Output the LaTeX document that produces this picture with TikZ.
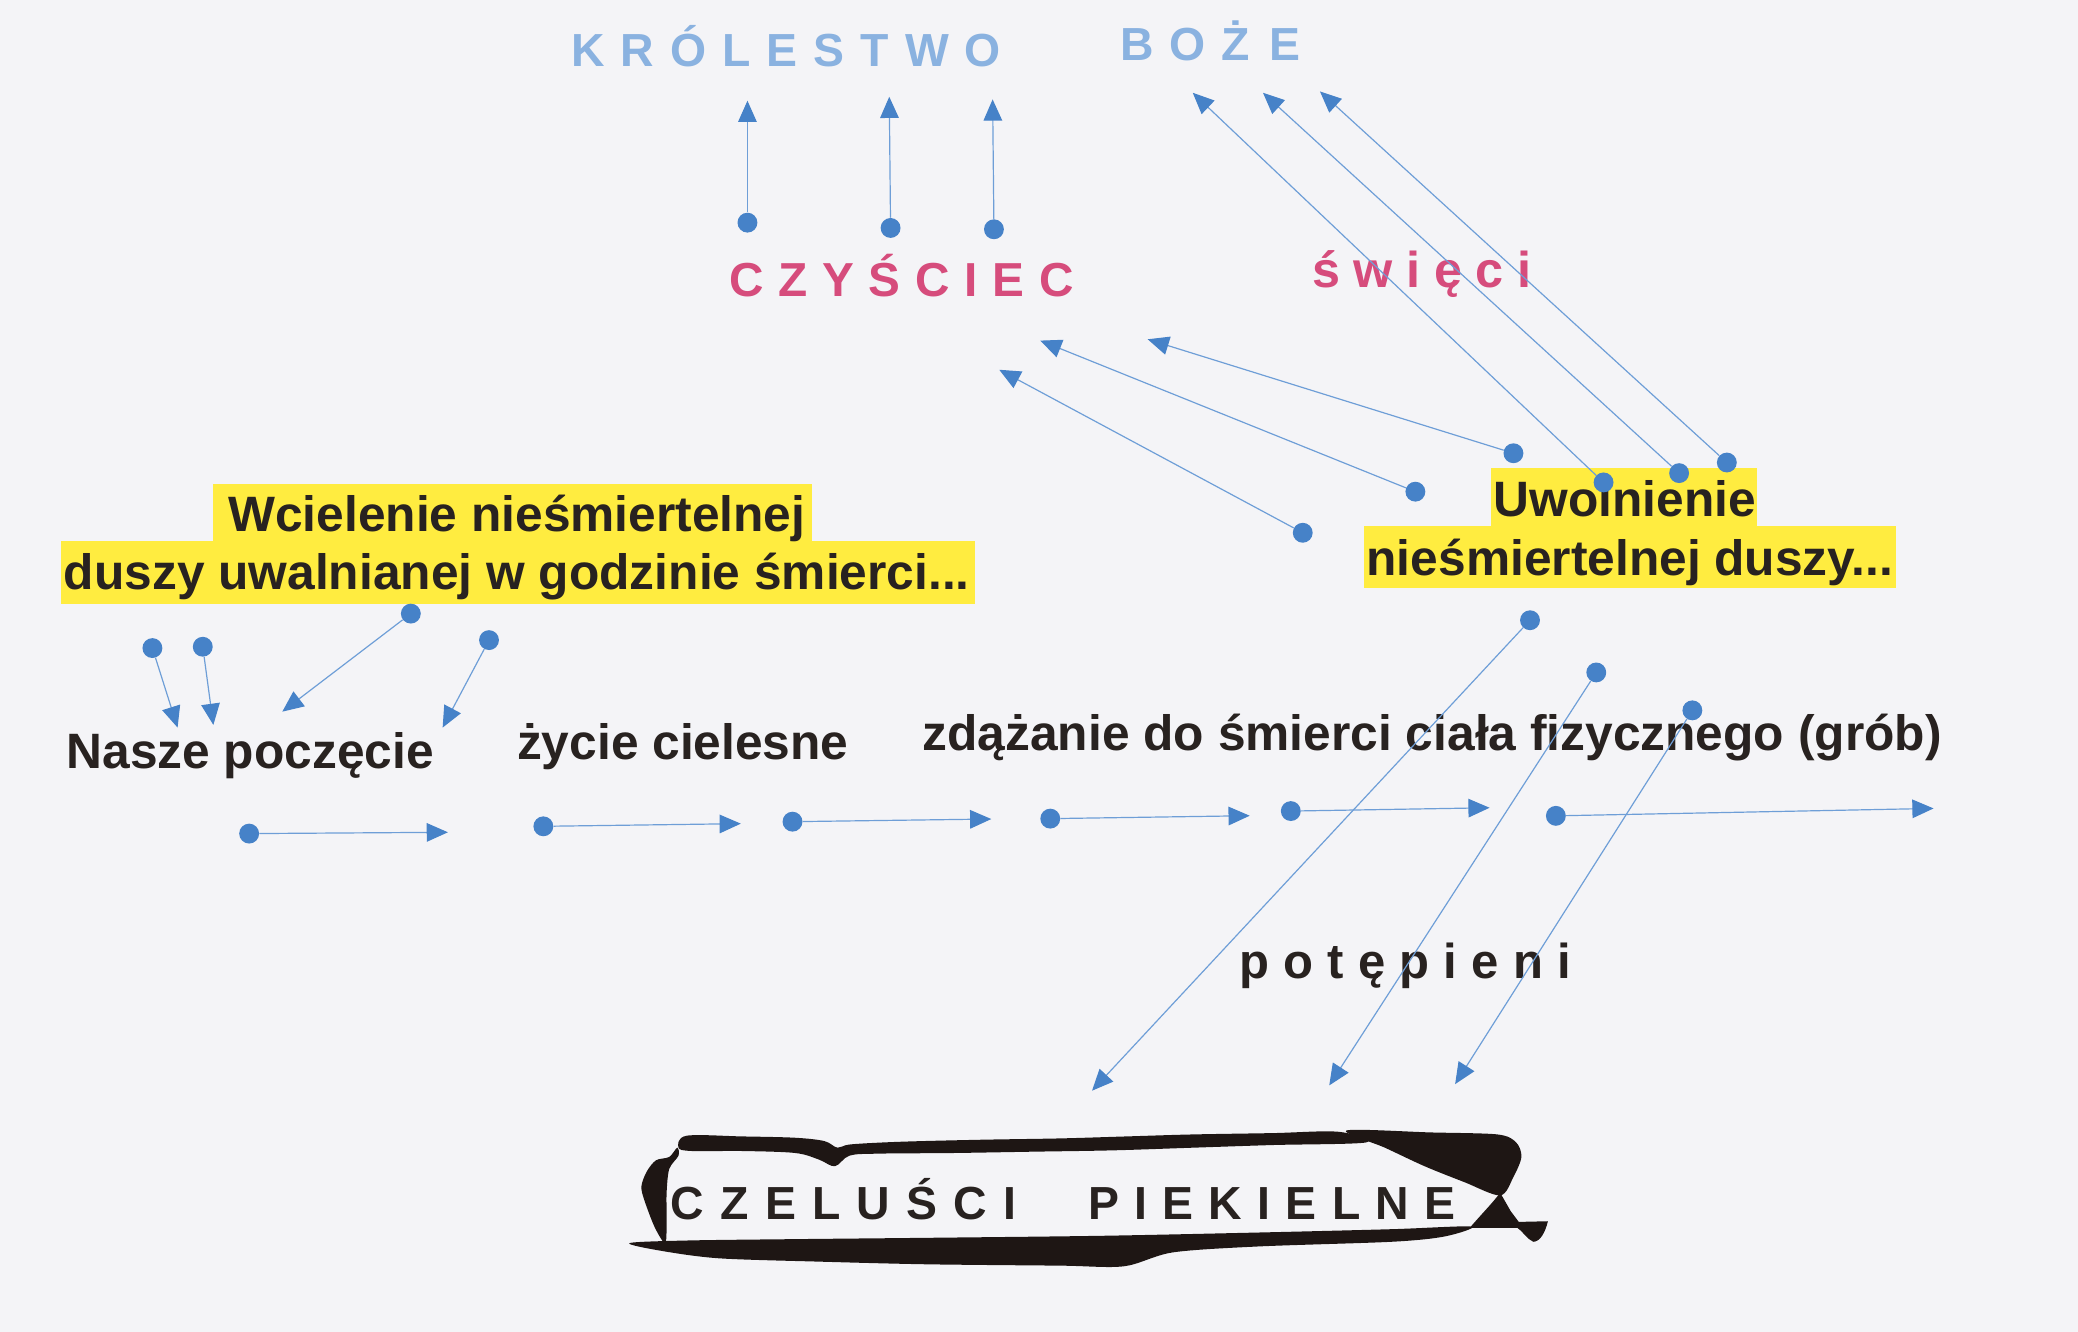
\documentclass[tikz,border=0pt]{standalone}
\usepackage{fontspec}
\setmainfont{Liberation Sans}
\usetikzlibrary{arrows.meta}
\definecolor{paper}{RGB}{244,244,247}
\definecolor{titleblue}{RGB}{138,178,224}
\definecolor{pinkred}{RGB}{214,76,124}
\definecolor{darktext}{RGB}{40,34,32}
\definecolor{hiyellow}{RGB}{255,236,64}
\definecolor{dotblue}{RGB}{70,130,200}
\definecolor{lineblue}{RGB}{110,158,215}
\definecolor{inkblack}{RGB}{30,22,20}
\begin{document}
\begin{tikzpicture}[x=1pt,y=-1pt,
  dot/.style={circle, fill=dotblue, inner sep=0pt, minimum size=15pt},
  conn/.style={draw=lineblue, line width=0.9pt, -{Triangle[length=16pt,width=14pt,color=dotblue]}},
  lab/.style={anchor=base west, inner sep=0pt, text=darktext, font=\bfseries\fontsize{37.5}{45}\selectfont},
  spaced/.style={anchor=base west, inner sep=0pt, font=\bfseries\fontsize{#1}{#1}\selectfont},
  hilite/.style={fill=hiyellow, draw=none},
  blotch/.style={fill=inkblack, draw=none}
]
\useasboundingbox (0,0) rectangle (1568,1005);
\fill[paper] (0,0) rectangle (1568,1005);

% yellow highlights
\fill[hilite] (161,365) rectangle (613,410);
\fill[hilite] (46,408) rectangle (736,456);
\fill[hilite] (1125,353) rectangle (1326,397);
\fill[hilite] (1029,397) rectangle (1431,444);

% titles
\node[spaced=35, text=titleblue] (krol) at (431,50) {\addfontfeature{LetterSpace=34.5}KRÓLESTWO};
\node[spaced=35, text=titleblue] (boze) at (845,46) {\addfontfeature{LetterSpace=34.5}BOŻ\hspace{15pt}E};
\node[spaced=36, text=pinkred] (czysciec) at (550,224) {\addfontfeature{LetterSpace=31}CZYŚCIEC};
\node[spaced=38, text=pinkred] (swieci) at (990,217) {\addfontfeature{LetterSpace=27}święci};
\node[spaced=37, text=darktext] (potepieni) at (935,738) {\addfontfeature{LetterSpace=29}potępieni};
\node[spaced=35, text=darktext] (hellA) at (506,920) {\addfontfeature{LetterSpace=35}CZELUŚCI};
\node[spaced=35, text=darktext] (hellB) at (821,920) {\addfontfeature{LetterSpace=33}PIEKIELNE};

% labels
\node[lab] (wc1) at (172,401) {Wcielenie nieśmiertelnej};
\node[lab] (wc2) at (48,445) {duszy uwalnianej w godzinie śmierci...};
\node[lab] (uw1) at (1127,390) {Uwolnienie};
\node[lab] (uw2) at (1031,434) {nieśmiertelnej duszy...};
\node[lab] (nasze) at (50,580) {Nasze poczęcie};
\node[lab] (zycie) at (390,573) {życie cielesne};
\node[lab] (zdaz) at (696,566) {zdążanie do śmierci ciała fizycznego (grób)};

% hell frame (blotch)
\fill[blotch] plot[smooth cycle, tension=0.55] coordinates {
  (512,866) (518,857) (560,857.5) (600,858.5) (622,861) (632,866) (642,863.5)
  (680,861.5) (740,860) (800,859) (850,857.5) (900,856) (960,855) (1010,854)
  (1031,862) (960,864) (900,866) (840,868) (780,869) (720,870) (662,870.5)
  (641,872) (630,880) (618,875) (600,870) (560,868.5) (522,868.5)};
\fill[blotch] plot[smooth cycle, tension=0.5] coordinates {
  (1016,853) (1080,854.5) (1130,856) (1144,862) (1148,873) (1142,888) (1132,902)
  (1105,892) (1075,880) (1045,866)};
\fill[blotch] (1132,900) -- (1140,914) -- (1146,922) -- (1168,921.5)
  .. controls (1166,930) and (1162,937) .. (1157,937)
  .. controls (1152,935) and (1149,929) .. (1145,926.5) -- (1109,926.5)
  .. controls (1118,916) and (1126,908) .. (1132,900) -- cycle;
\fill[blotch] plot[smooth cycle, tension=0.5] coordinates {
  (475,938) (520,936) (600,935) (700,934) (830,932.5) (950,930) (1050,927.5) (1110,925.5)
  (1090,933) (1050,937) (950,940.5) (885,945) (848,955.5) (800,955) (700,954)
  (619,952) (543,949.5) (500,944)};
\fill[blotch] plot[smooth cycle, tension=0.5] coordinates {
  (495,875.5) (505,873) (511,866) (512,872) (505,882) (503,900) (503,920) (502,938)
  (494,926) (486,905) (484,895) (488,884)};

% dots
\node[dot] (v1) at (564,168) {};
\node[dot] (v2) at (672,172) {};
\node[dot] (v3) at (750,173) {};
\node[dot] (s1) at (1210,364) {};
\node[dot] (s2) at (1267,357) {};
\node[dot] (s3) at (1303,349) {};
\node[dot] (c1) at (1142,342) {};
\node[dot] (c2) at (1068,371) {};
\node[dot] (c3) at (983,402) {};
\node[dot] (w1) at (115,489) {};
\node[dot] (w2) at (153,488) {};
\node[dot] (w3) at (310,463) {};
\node[dot] (w4) at (369,483) {};
\node[dot] (h1) at (188,629) {};
\node[dot] (h2) at (410,623.5) {};
\node[dot] (h3) at (598,620) {};
\node[dot] (h4) at (792.5,617.7) {};
\node[dot] (h5) at (974,612) {};
\node[dot] (h6) at (1174,615.6) {};
\node[dot] (d1) at (1154.5,468) {};
\node[dot] (d2) at (1204.5,507.4) {};
\node[dot] (d3) at (1277,536) {};

% arrow ends
\coordinate (tv1) at (564,76);
\coordinate (tv2) at (671,73);
\coordinate (tv3) at (749,75);
\coordinate (ts1) at (900,70);
\coordinate (ts2) at (953,70);
\coordinate (ts3) at (996,69);
\coordinate (tc1) at (866,256);
\coordinate (tc2) at (785,257);
\coordinate (tc3) at (754,279);
\coordinate (tw1) at (134,549);
\coordinate (tw2) at (161,547);
\coordinate (tw3) at (213,537);
\coordinate (tw4) at (334,549);
\coordinate (th1) at (338,628);
\coordinate (th2) at (559,621.5);
\coordinate (th3) at (748,618);
\coordinate (th4) at (943,615.5);
\coordinate (th5) at (1124,609.5);
\coordinate (th6) at (1459,610);
\coordinate (td1) at (824,823);
\coordinate (td2) at (1003,819);
\coordinate (td3) at (1098,818);

\foreach \n in {v1,v2,v3,s1,s2,s3,c1,c2,c3,w1,w2,w3,w4,h1,h2,h3,h4,h5,h6,d1,d2,d3}
  \draw[conn] (\n) -- (t\n);
\end{tikzpicture}
\end{document}
